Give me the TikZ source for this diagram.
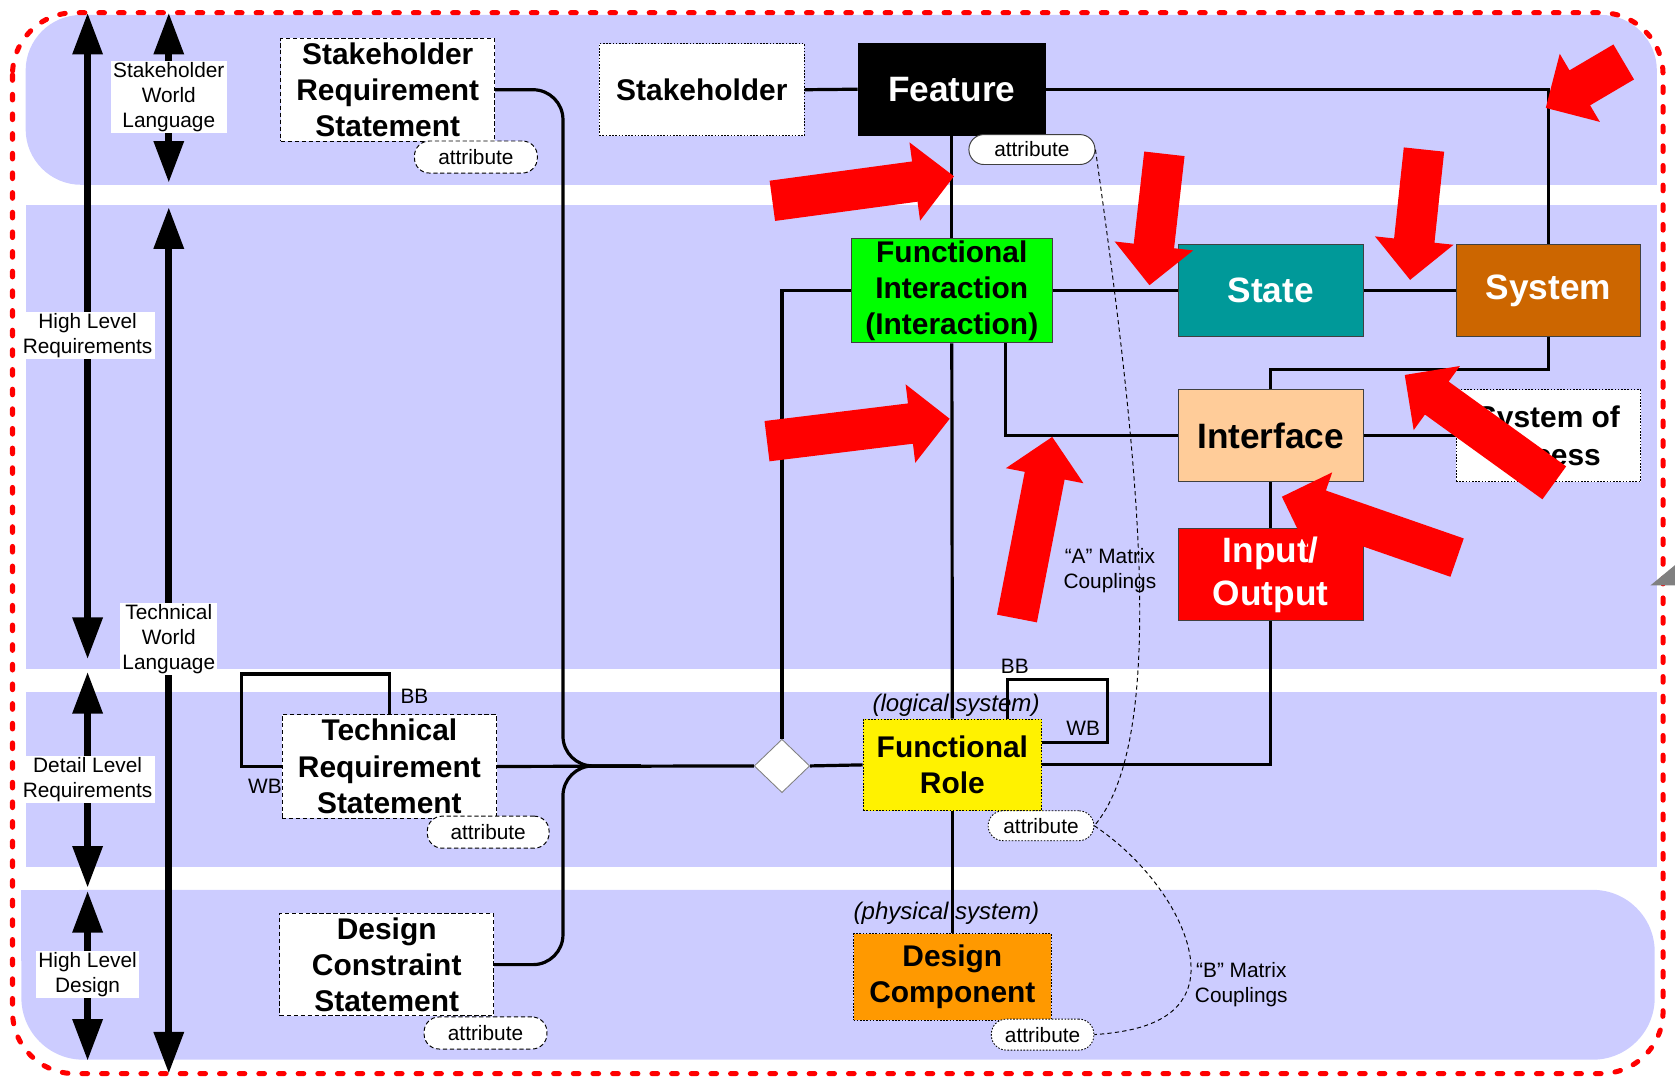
\documentclass[tikz,border=0pt]{standalone}
\usepackage{fontspec}
\setmainfont{Liberation Sans}
\usetikzlibrary{arrows.meta,calc,shapes.geometric}
\definecolor{bandc}{HTML}{CCCCFF}
\definecolor{figreen}{HTML}{00FF00}
\definecolor{stateteal}{HTML}{009999}
\definecolor{sysbrown}{HTML}{CC6600}
\definecolor{ifpeach}{HTML}{FFCC99}
\definecolor{dcorange}{HTML}{FF9900}
\definecolor{arrowred}{HTML}{FF0000}
\newcommand\fntbig{\fontsize{28}{33.5}\selectfont\bfseries}
\newcommand\fntlarge{\fontsize{33}{40}\selectfont\bfseries}
\newcommand\fntsmall{\fontsize{19.5}{23.5}\selectfont}
\newcommand\fntital{\fontsize{22.5}{27}\selectfont\itshape}
\newcommand\redarrow[2]{%
  \coordinate (rH) at ($(#2)!37pt!(#1)$);
  \fill[arrowred] ($(#1)!19pt!90:(#2)$) -- ($(rH)!19pt!90:(#2)$) -- ($(rH)!37pt!90:(#2)$) -- (#2)
    -- ($(rH)!37pt!-90:(#2)$) -- ($(rH)!19pt!-90:(#2)$) -- ($(#1)!19pt!-90:(#2)$) -- cycle;}
\tikzset{
  conn/.style={line width=3pt, black},
  lvarrow/.style={line width=6.5pt, {Triangle[length=39pt,width=27pt]}-{Triangle[length=39pt,width=27pt]}},
  lvlabel/.style={fill=white, inner xsep=2pt, inner ysep=1pt, align=center, font=\fntsmall},
  bx/.style={rectangle, inner sep=0pt, align=center},
  dashedb/.style={draw=black, line width=0.9pt, dash pattern=on 4pt off 2.5pt},
  dottedb/.style={draw=black, line width=0.8pt, dash pattern=on 1.5pt off 1.5pt},
  solidb/.style={draw=black!75, line width=0.9pt},
  attrpill/.style={rectangle, rounded corners=14pt, fill=white, inner sep=0pt, font=\fntsmall},
  coupl/.style={line width=0.9pt, dash pattern=on 4pt off 3pt},
  txt/.style={inner sep=0pt, align=center, font=\fntsmall},
  border/.style={draw=arrowred, line width=4.7pt, line cap=round, dash pattern=on 5.3pt off 13.1pt}
}
\begin{document}
\begin{tikzpicture}[x=1pt,y=-1pt]
\useasboundingbox (0,0) rectangle (1568,1008);
% bands
\fill[bandc, rounded corners=52pt] (24,14) rectangle (1551,173);
\fill[bandc] (1480,110) rectangle (1551,173);
\fill[bandc] (24,192) rectangle (1551,626);
\fill[bandc] (24,648) rectangle (1551,812);
\fill[bandc, rounded corners=58pt] (20,833) rectangle (1549,992);
\fill[bandc] (20,833) rectangle (90,900);
% outer border
\draw[border, rounded corners=58pt] (11.7,11.9) rectangle (1556.8,1005);
% level arrows
\draw[lvarrow] (82,12) -- (82,617);
\draw[lvarrow] (158,12) -- (158,171);
\draw[lvarrow] (158,194) -- (158,1005);
\draw[lvarrow] (82,629) -- (82,831);
\draw[lvarrow] (82,834) -- (82,993);
\node[lvlabel] (lhlr) at (82,314) {High Level\\Requirements};
\node[lvlabel] (lswl) at (158,91) {Stakeholder\\World\\Language};
\node[lvlabel] (ltwl) at (158,598) {Technical\\World\\Language};
\node[lvlabel] (ldlr) at (82,730) {Detail Level\\Requirements};
\node[lvlabel] (lhld) at (82,912) {High Level\\Design};
% italic and small labels (under lines)
\node[inner sep=0pt, font=\fntital] (lgs) at (895,660) {(logical system)};
\node[inner sep=0pt, font=\fntital] (phs) at (886,855) {(physical system)};
\node[txt] (bb1) at (950,624) {BB};
\node[txt] (wb1) at (1014,682) {WB};
\node[txt] (bb2) at (388,652) {BB};
\node[txt] (wb2) at (248,736) {WB};
\node[txt] (amc) at (1039,534) {“A” Matrix\\Couplings};
\node[txt] (bmc) at (1162,922) {“B” Matrix\\Couplings};
% boxes
\node[bx, dashedb, fill=white, minimum width=200pt, minimum height=96pt, font=\fntbig] (srs) at (363,84) {Stakeholder\\Requirement\\Statement};
\node[bx, dottedb, fill=white, minimum width=192pt, minimum height=86pt, font=\fntbig] (stk) at (657,84) {Stakeholder};
\node[bx, fill=black, text=white, minimum width=176pt, minimum height=87pt, font=\fntlarge] (feat) at (891,83.5) {Feature};
\node[bx, solidb, fill=figreen, minimum width=188pt, minimum height=98pt, font=\fntbig] (fi) at (891,272) {Functional\\Interaction\\(Interaction)};
\node[bx, solidb, fill=stateteal, text=white, minimum width=173pt, minimum height=86pt, font=\fntlarge] (state) at (1189.5,272) {State};
\node[bx, solidb, fill=sysbrown, text=white, minimum width=173pt, minimum height=86pt, font=\fntlarge] (sys) at (1449.5,272) {System};
\node[bx, solidb, fill=ifpeach, minimum width=173pt, minimum height=86pt, font=\fntlarge] (iface) at (1189.5,408) {Interface};
\node[bx, dottedb, fill=white, minimum width=173pt, minimum height=86pt, font=\fontsize{28}{35}\selectfont\bfseries] (soa) at (1449.5,408) {System of\\Access};
\node[bx, solidb, fill=arrowred, text=white, minimum width=173pt, minimum height=86pt, font=\fntlarge] (io) at (1189.5,538) {Input/\\Output};
\node[bx, dottedb, fill=yellow, minimum width=167pt, minimum height=86pt, font=\fontsize{28}{34}\selectfont\bfseries] (fr) at (891.5,716) {Functional\\Role};
\node[bx, dottedb, fill=dcorange, minimum width=185pt, minimum height=81pt, font=\fontsize{28}{34}\selectfont\bfseries] (dc) at (891.5,914.5) {Design\\Component};
\node[bx, dashedb, fill=white, minimum width=201pt, minimum height=97pt, font=\fontsize{28}{34}\selectfont\bfseries] (trs) at (364.5,717.5) {Technical\\Requirement\\Statement};
\node[bx, dashedb, fill=white, minimum width=200pt, minimum height=96pt, font=\fntbig] (dcs) at (362,903) {Design\\Constraint\\Statement};
\node[diamond, aspect=1, draw=black!50, line width=0.8pt, fill=white, inner sep=0pt, minimum width=52pt, minimum height=50pt] (dia) at (732,717) {};
% attributes
\node[attrpill, dashedb, minimum width=115pt, minimum height=30pt] (sa) at (445.5,147) {attribute};
\node[attrpill, solidb, minimum width=118pt, minimum height=28pt] (fa) at (966,140) {attribute};
\node[attrpill, dashedb, minimum width=114pt, minimum height=30pt] (ta) at (457,779) {attribute};
\node[attrpill, dashedb, minimum width=115pt, minimum height=30pt] (da) at (454.5,967) {attribute};
\node[attrpill, dottedb, minimum width=99pt, minimum height=28pt] (fra) at (974.5,773) {attribute};
\node[attrpill, dottedb, minimum width=96pt, minimum height=29pt] (dca) at (976,968.5) {attribute};
% connectors
\coordinate (jn) at (600,717);
\draw[conn, rounded corners=28pt] (srs.east) -- (527,84) -- (527,717) -- (jn);
\draw[conn, rounded corners=28pt] (dcs.east) -- (527,903) -- (527,717) -- (jn);
\draw[conn] (trs.east) -- (dia.west);
\draw[conn] (dia.north) |- (fi.west);
\draw[conn] (dia.east) -- (fr.west);
\draw[conn] (stk.east) -- (feat.west);
\draw[conn] (feat.east) -| (sys.north);
\draw[conn] (feat.south) -- (fi.north);
\draw[conn] (fi.east) -- (state.west);
\draw[conn] (state.east) -- (sys.west);
\draw[conn] (fi.south) -- (fr.north);
\draw[conn] ($(fi.south)+(50,0)$) |- (iface.west);
\draw[conn] (sys.south) |- ($(iface.north)+(0,-19)$) -- (iface.north);
\draw[conn] (iface.east) -- (soa.west);
\draw[conn] (iface.south) -- (io.north);
\draw[conn] (io.south) |- (fr.east);
\draw[conn] (fr.south) -- (dc.north);
\draw[conn] ($(fr.north)+(51.5,0)$) |- (1037,636) |- ($(fr.east)+(0,-21)$);
\draw[conn] (trs.north) |- (226,631) |- (trs.west);
% couplings
\draw[coupl] (fa.east) .. controls (1065,420) and (1095,690) .. (fra.east);
\draw[coupl] (fra.east) .. controls (1080,810) and (1122,875) .. (1114,918) .. controls (1106,958) and (1060,966) .. (dca.east);
% red arrows
\coordinate (ra1t) at (723,188); \coordinate (ra1p) at (893,165);
\coordinate (ra2t) at (718,413); \coordinate (ra2p) at (889,392);
\coordinate (ra3t) at (952,579); \coordinate (ra3p) at (985,409);
\coordinate (ra4t) at (1090,144); \coordinate (ra4p) at (1076,267);
\coordinate (ra5t) at (1333,140); \coordinate (ra5p) at (1320,262);
\coordinate (ra6t) at (1520,58); \coordinate (ra6p) at (1447,101);
\coordinate (ra7t) at (1455,452); \coordinate (ra7p) at (1315,351);
\coordinate (ra8t) at (1364,522); \coordinate (ra8p) at (1200,465);
\redarrow{ra1t}{ra1p}
\redarrow{ra2t}{ra2p}
\redarrow{ra3t}{ra3p}
\redarrow{ra4t}{ra4p}
\redarrow{ra5t}{ra5p}
\redarrow{ra6t}{ra6p}
\redarrow{ra7t}{ra7p}
\redarrow{ra8t}{ra8p}
% grey mark at right edge
\fill[gray] (1545,548) -- (1568,548) -- (1568,529) -- cycle;
\end{tikzpicture}
\end{document}
